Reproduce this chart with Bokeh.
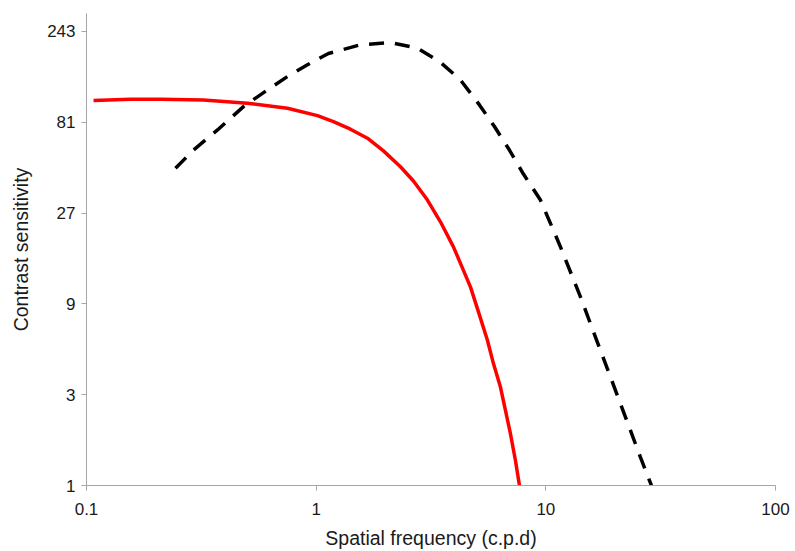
from bokeh.plotting import figure
from bokeh.models import FixedTicker, Range1d, CustomJSTickFormatter
from bokeh.embed import file_html
from bokeh.resources import INLINE

# Contrast sensitivity functions (spatial frequency in cycles per degree)
solid_freq = [0.1073, 0.1554, 0.2101, 0.3231, 0.5022, 0.7501, 1.013, 1.189, 1.410,
              1.672, 1.963, 2.328, 2.652, 3.052, 3.476, 3.960, 4.378, 4.696, 5.089,
              5.568, 5.914, 6.345, 6.671, 7.013, 7.374, 7.676]
solid_sens = [105.5, 106.9, 107.1, 106.2, 102.0, 96.0, 87.8, 81.7, 74.5,
              66.8, 57.3, 47.3, 39.8, 31.6, 24.3, 17.95, 13.5, 11.06, 8.17,
              5.80, 4.37, 3.29, 2.48, 1.871, 1.354, 1.0]

dashed_freq = [0.2441, 0.2922, 0.3718, 0.4825, 0.6138, 0.7501, 0.9165, 1.131, 1.559,
               2.106, 2.761, 3.476, 4.248, 5.139, 5.974, 6.942, 7.990, 9.474, 11.58,
               14.15, 17.29, 21.13, 25.81, 28.83]
dashed_sens = [46.4, 57.9, 73.8, 97.9, 119.9, 140.9, 162.3, 186.2, 206.8,
               212.6, 198.7, 167.3, 135.3, 99.96, 76.9, 57.9, 43.3, 31.6, 17.95,
               9.79, 5.13, 2.691, 1.409, 1.0]

x_ticks = [0.1, 1, 10, 100]
y_ticks = [1, 3, 9, 27, 81, 243]

FONT = "Liberation Sans"
TEXT = "#1a1a1a"
AXIS = "#A6A6A6"

p = figure(
    width=795, height=551,
    x_axis_type="log", y_axis_type="log",
    x_range=Range1d(0.1, 100), y_range=Range1d(1, 302),
    output_backend="svg", toolbar_location=None,
    min_border_left=86, min_border_right=20,
    min_border_top=13, min_border_bottom=66,
)

p.line(solid_freq, solid_sens, line_color="#FF0000", line_width=3.5)
p.line(dashed_freq, dashed_sens, line_color="#000000", line_width=3.5, line_dash="15 11")

p.xgrid.visible = False
p.ygrid.visible = False
p.outline_line_color = None

p.xaxis.ticker = FixedTicker(ticks=x_ticks)
p.yaxis.ticker = FixedTicker(ticks=y_ticks)
fmt = CustomJSTickFormatter(code="return String(tick);")
p.xaxis.formatter = fmt
p.yaxis.formatter = fmt

for ax in (p.xaxis, p.yaxis):
    ax.axis_line_color = AXIS
    ax.axis_line_width = 1
    ax.major_tick_line_color = AXIS
    ax.major_tick_in = 0
    ax.major_tick_out = 5
    ax.minor_tick_line_color = None
    ax.major_label_text_font = FONT
    ax.major_label_text_font_size = "17px"
    ax.major_label_text_color = TEXT
    ax.axis_label_text_font = FONT
    ax.axis_label_text_font_size = "19.5px"
    ax.axis_label_text_font_style = "normal"
    ax.axis_label_text_color = TEXT

p.xaxis.axis_label = "Spatial frequency (c.p.d)"
p.yaxis.axis_label = "Contrast sensitivity"
p.xaxis.major_label_standoff = 12
p.yaxis.major_label_standoff = 6
p.xaxis.axis_label_standoff = 9
p.yaxis.axis_label_standoff = 12

open("out.html", "w").write(file_html(p, INLINE))
